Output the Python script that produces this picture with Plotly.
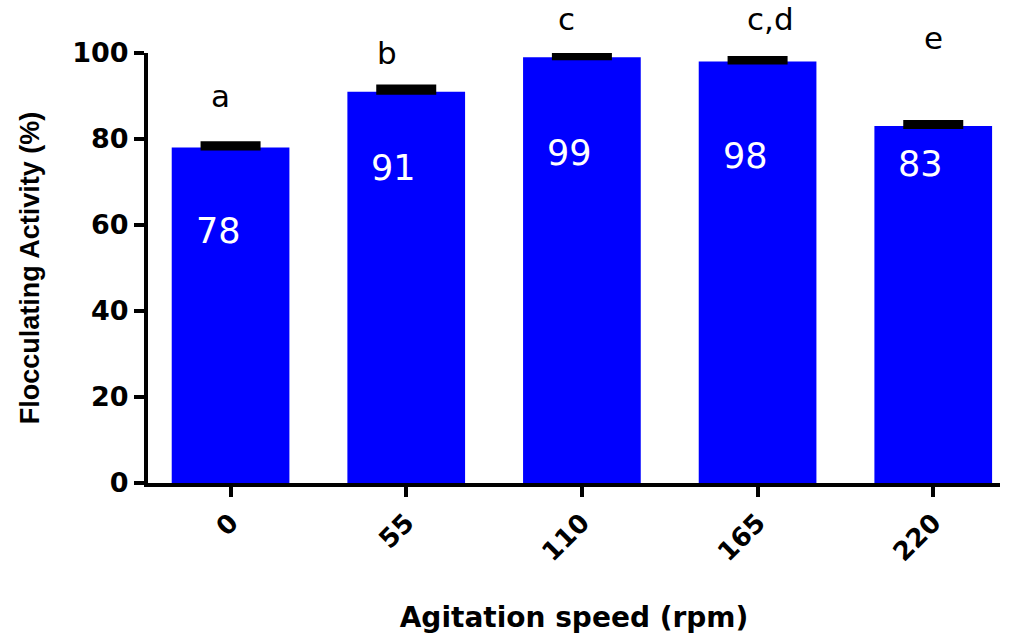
import plotly.graph_objects as go

# Flocculating activity at each agitation speed
speeds = ["0", "55", "110", "165", "220"]
activity = [78, 91, 99, 98, 83]
activity_err = [0.8, 1.0, 0.6, 0.6, 0.7]
groups = ["a", "b", "c", "c,d", "e"]

# placement of the in-bar value labels and the group letters
# (heights in data units, horizontal shifts in category units)
value_label_y = [58.5, 73.3, 76.7, 76.0, 74.2]
value_label_dx = [-0.07, -0.07, -0.07, -0.07, -0.07]
group_label_y = [90.0, 100.0, 108.0, 108.0, 103.5]
group_label_dx = [-0.057, -0.108, -0.09, 0.074, 0.0]

Y_MAX = 100
x_idx = list(range(len(speeds)))

fig = go.Figure()
fig.add_trace(go.Bar(
    x=x_idx,
    y=activity,
    width=0.67,
    marker=dict(color="#0000FF", line=dict(width=0)),
    error_y=dict(type="data", array=activity_err, arrayminus=[0] * len(activity),
                 color="black", thickness=6, width=30),
    cliponaxis=False,
    showlegend=False,
))

annotations = []
for i, (v, ly, dx) in enumerate(zip(activity, value_label_y, value_label_dx)):
    annotations.append(dict(
        x=i + dx, y=ly, xref="x", yref="y", text=str(v), showarrow=False,
        yanchor="middle",
        font=dict(family="DejaVu Sans", size=35, color="white"),
    ))
# group letters sit above the axis range, so place them in paper units
for i, (g, gy, dx) in enumerate(zip(groups, group_label_y, group_label_dx)):
    annotations.append(dict(
        x=i + dx, y=gy / Y_MAX, xref="x", yref="paper", text=g, showarrow=False,
        yanchor="middle",
        font=dict(family="DejaVu Sans", size=31, color="black"),
    ))

fig.update_layout(
    width=1016, height=636,
    margin=dict(l=148, r=16, t=53, b=153),
    paper_bgcolor="white", plot_bgcolor="white",
    annotations=annotations,
    xaxis=dict(
        tickmode="array", tickvals=x_idx, ticktext=speeds,
        range=[-0.47, 4.38],
        tickangle=-45, automargin=False,
        tickfont=dict(family="DejaVu Sans", size=26, color="black", weight="bold"),
        showline=True, linecolor="black", linewidth=4,
        ticks="outside", ticklen=10, tickwidth=4, tickcolor="black",
        showgrid=False, zeroline=False,
        title=dict(text="Agitation speed (rpm)", standoff=42,
                   font=dict(family="DejaVu Sans", size=28, color="black", weight="bold")),
    ),
    yaxis=dict(
        range=[0, Y_MAX], tickvals=[0, 20, 40, 60, 80, 100],
        automargin=False,
        tickfont=dict(family="DejaVu Sans", size=27, color="black", weight="bold"),
        showline=True, linecolor="black", linewidth=4,
        ticks="outside", ticklen=10, tickwidth=4, tickcolor="black",
        showgrid=False, zeroline=False,
        title=dict(text="Flocculating Activity (%)", standoff=26,
                   font=dict(family="Liberation Sans Narrow, Liberation Sans", size=27,
                             color="black", weight="bold")),
    ),
)

fig.write_html("out.html")
